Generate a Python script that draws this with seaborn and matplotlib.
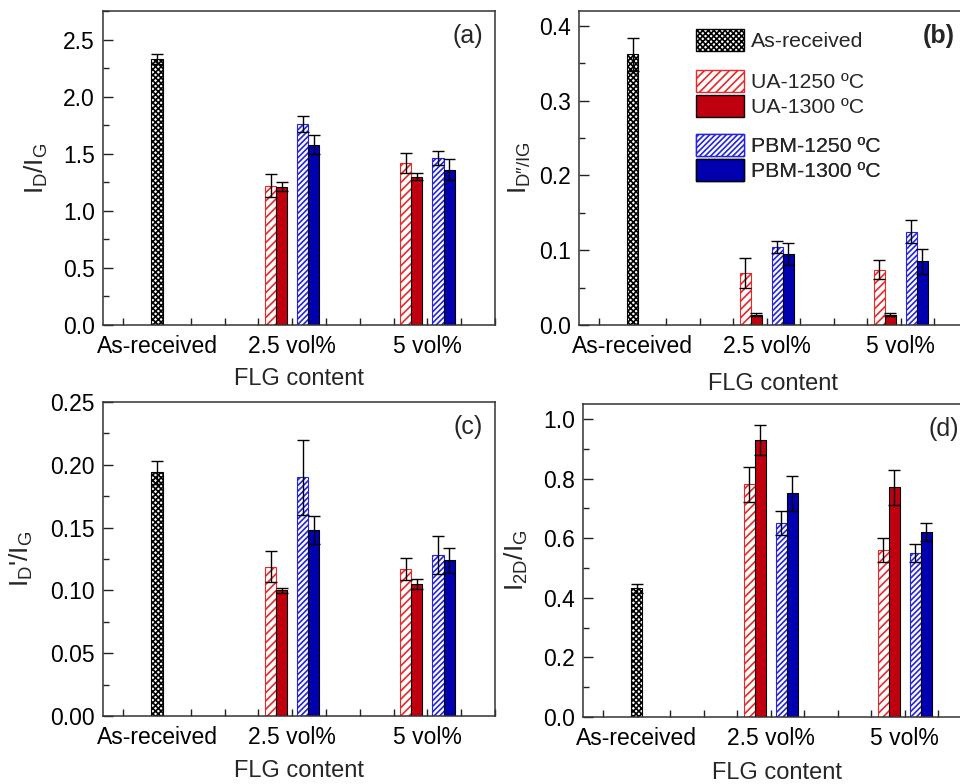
import numpy as np
import pandas as pd
import seaborn as sns
import matplotlib
matplotlib.use("Agg")
import matplotlib.pyplot as plt
from matplotlib.patches import Patch
from matplotlib.ticker import MultipleLocator, FormatStrFormatter

# ---------------- data ----------------
categories = ["As-received", "2.5 vol%", "5 vol%"]
series = ["UA-1250 ºC", "UA-1300 ºC", "PBM-1250 ºC", "PBM-1300 ºC"]

# panel (a) I_D/I_G
a_asr, a_asr_err = 2.33, 0.04
a_ua1250, a_ua1250_err = [1.22, 1.42], [0.10, 0.09]
a_ua1300, a_ua1300_err = [1.21, 1.30], [0.04, 0.03]
a_pbm1250, a_pbm1250_err = [1.76, 1.46], [0.07, 0.06]
a_pbm1300, a_pbm1300_err = [1.58, 1.36], [0.08, 0.09]

# panel (b) I_D''/I_G
b_asr, b_asr_err = 0.362, 0.022
b_ua1250, b_ua1250_err = [0.070, 0.074], [0.020, 0.013]
b_ua1300, b_ua1300_err = [0.014, 0.014], [0.002, 0.002]
b_pbm1250, b_pbm1250_err = [0.104, 0.125], [0.008, 0.015]
b_pbm1300, b_pbm1300_err = [0.095, 0.085], [0.015, 0.017]

# panel (c) I_D'/I_G
c_asr, c_asr_err = 0.194, 0.009
c_ua1250, c_ua1250_err = [0.119, 0.117], [0.012, 0.009]
c_ua1300, c_ua1300_err = [0.100, 0.105], [0.002, 0.004]
c_pbm1250, c_pbm1250_err = [0.190, 0.128], [0.030, 0.015]
c_pbm1300, c_pbm1300_err = [0.148, 0.124], [0.011, 0.010]

# panel (d) I_2D/I_G
d_asr, d_asr_err = 0.432, 0.015
d_ua1250, d_ua1250_err = [0.78, 0.56], [0.06, 0.04]
d_ua1300, d_ua1300_err = [0.93, 0.77], [0.05, 0.06]
d_pbm1250, d_pbm1250_err = [0.65, 0.55], [0.04, 0.03]
d_pbm1300, d_pbm1300_err = [0.75, 0.62], [0.06, 0.03]

# ---------------- style ----------------
sns.set_theme(style="ticks")
plt.rcParams["font.family"] = ["Liberation Sans", "DejaVu Sans"]
plt.rcParams["mathtext.fontset"] = "custom"
plt.rcParams["mathtext.rm"] = "Liberation Sans"
plt.rcParams["mathtext.it"] = "Liberation Sans"
plt.rcParams["hatch.linewidth"] = 1.2

RED = "#C0000F"
BLUE = "#0000B0"
RED_H = "#E82828"
BLUE_H = "#2424E0"

styles = {
    "As-received": dict(facecolor="white", edgecolor="black", hatch="xxxxxx", lw=0.8),
    series[0]: dict(facecolor="white", edgecolor=RED_H, hatch="////", lw=0.8),
    series[1]: dict(facecolor=RED, edgecolor="black", hatch=None, lw=0.8),
    series[2]: dict(facecolor="white", edgecolor=BLUE_H, hatch="//////", lw=0.8),
    series[3]: dict(facecolor=BLUE, edgecolor="black", hatch=None, lw=0.8),
}

bw = 0.082
gap = 0.075
offsets = {
    series[0]: -1.5 * bw - gap / 2,
    series[1]: -0.5 * bw - gap / 2,
    series[2]: 0.5 * bw + gap / 2,
    series[3]: 1.5 * bw + gap / 2,
}
cat_pos = {c: i + 1 for i, c in enumerate(categories)}

fig = plt.figure(figsize=(9.6, 7.84), dpi=100)
W, H = 960.0, 784.0


def add_ax(l, r, t, b):
    return fig.add_axes([l / W, 1 - b / H, (r - l) / W, (b - t) / H])


axes = {
    "a": add_ax(103, 495, 11, 325),
    "b": add_ax(579, 968, 11, 325),
    "c": add_ax(103, 495, 402, 716),
    "d": add_ax(583, 972, 404, 717),
}

panel_data = {
    "a": (a_asr, a_asr_err, [a_ua1250, a_ua1300, a_pbm1250, a_pbm1300],
          [a_ua1250_err, a_ua1300_err, a_pbm1250_err, a_pbm1300_err]),
    "b": (b_asr, b_asr_err, [b_ua1250, b_ua1300, b_pbm1250, b_pbm1300],
          [b_ua1250_err, b_ua1300_err, b_pbm1250_err, b_pbm1300_err]),
    "c": (c_asr, c_asr_err, [c_ua1250, c_ua1300, c_pbm1250, c_pbm1300],
          [c_ua1250_err, c_ua1300_err, c_pbm1250_err, c_pbm1300_err]),
    "d": (d_asr, d_asr_err, [d_ua1250, d_ua1300, d_pbm1250, d_pbm1300],
          [d_ua1250_err, d_ua1300_err, d_pbm1250_err, d_pbm1300_err]),
}

ylims = {"a": 2.75, "b": 0.42, "c": 0.25, "d": 1.05}
ymaj = {"a": 0.5, "b": 0.1, "c": 0.05, "d": 0.2}
yfmt = {"a": "%.1f", "b": "%.1f", "c": "%.2f", "d": "%.1f"}
ylabels = {
    "a": "I$_\\mathregular{D}$/I$_\\mathregular{G}$",
    "b": "I$_\\mathregular{D\u2033/IG}$",
    "c": "I$_\\mathregular{D}$'/I$_\\mathregular{G}$",
    "d": "I$_\\mathregular{2D}$/I$_\\mathregular{G}$",
}
ylab_x = {"a": -0.135, "b": -0.118, "c": -0.173, "d": -0.135}
xlab_y = {"a": -0.137, "b": -0.153, "c": -0.14, "d": -0.144}
tags = {"a": "(a)", "b": "(b)", "c": "(c)", "d": "(d)"}

TICK_FS = 16.5
LAB_FS = 17

for key, ax in axes.items():
    asr, asr_err, vals, errs = panel_data[key]
    # As-received bar
    df0 = pd.DataFrame({"x": [float(cat_pos[categories[0]])], "y": [asr]})
    st = styles["As-received"]
    sns.barplot(data=df0, x="x", y="y", native_scale=True, width=bw * 1.05,
                orient="x", ax=ax, errorbar=None, saturation=1,
                color=st["facecolor"], edgecolor=st["edgecolor"],
                linewidth=st["lw"], hatch=st["hatch"])
    ax.errorbar(df0["x"], df0["y"], yerr=[asr_err], fmt="none", ecolor="black",
                elinewidth=1.0, capsize=4, capthick=1.0, zorder=5)
    for s, v, e in zip(series, vals, errs):
        xs = [cat_pos[c] + offsets[s] for c in categories[1:]]
        df = pd.DataFrame({"x": xs, "y": v})
        st = styles[s]
        sns.barplot(data=df, x="x", y="y", native_scale=True, width=bw,
                    orient="x", ax=ax, errorbar=None, saturation=1,
                    color=st["facecolor"], edgecolor=st["edgecolor"],
                    linewidth=st["lw"], hatch=st["hatch"])
        ax.errorbar(df["x"], df["y"], yerr=e, fmt="none", ecolor="black",
                    elinewidth=1.0, capsize=4, capthick=1.0, zorder=5)

    ax.set_xlim(0.6, 3.5)
    ax.set_ylim(0, ylims[key])
    ax.set_xticks([cat_pos[c] for c in categories])
    ax.set_xticklabels(categories)
    ax.xaxis.set_minor_locator(MultipleLocator(0.25))
    ax.yaxis.set_major_locator(MultipleLocator(ymaj[key]))
    ax.yaxis.set_minor_locator(MultipleLocator(ymaj[key] / 2))
    ax.yaxis.set_major_formatter(FormatStrFormatter(yfmt[key]))
    ax.tick_params(axis="both", which="both", direction="in", top=False,
                   right=False, labelsize=TICK_FS, colors="#222222",
                   labelcolor="black", width=1.0)
    ax.tick_params(axis="y", which="major", length=7, pad=6)
    ax.tick_params(axis="y", which="minor", length=4)
    ax.tick_params(axis="x", which="both", length=5, pad=7)
    for sp in ax.spines.values():
        sp.set_visible(True)
        sp.set_linewidth(1.1)
        sp.set_color("#333333")
    ax.set_xlabel("FLG content", fontsize=LAB_FS)
    ax.set_ylabel(ylabels[key], fontsize=19)
    ax.xaxis.set_label_coords(0.5, xlab_y[key])
    ax.yaxis.set_label_coords(ylab_x[key], 0.5)
    ax.text(0.969 if key in ("a", "c") else 0.967, 0.92, tags[key],
            transform=ax.transAxes, ha="right", va="center", fontsize=18,
            fontweight="bold" if key == "b" else "normal")

# ---------------- legend in (b) ----------------
axb = axes["b"]
LEG_FS = 15.3
fpx = LEG_FS * 100 / 72.0


def mk(name):
    st = styles[name]
    return Patch(facecolor=st["facecolor"], edgecolor=st["edgecolor"],
                 hatch=st["hatch"], linewidth=1.0, label=name)


groups = [(["As-received"], 0.9076), (series[:2], 0.737), (series[2:], 0.533)]
for names, yc in groups:
    leg = axb.legend(handles=[mk(n) for n in names], loc="center left",
                     bbox_to_anchor=(0.300, yc), frameon=False,
                     fontsize=LEG_FS, borderpad=0, borderaxespad=0,
                     handlelength=48 / fpx, handleheight=26 / fpx,
                     handletextpad=7 / fpx, labelspacing=3 / fpx)
    axb.add_artist(leg)

fig.savefig("out.png", dpi=100)
